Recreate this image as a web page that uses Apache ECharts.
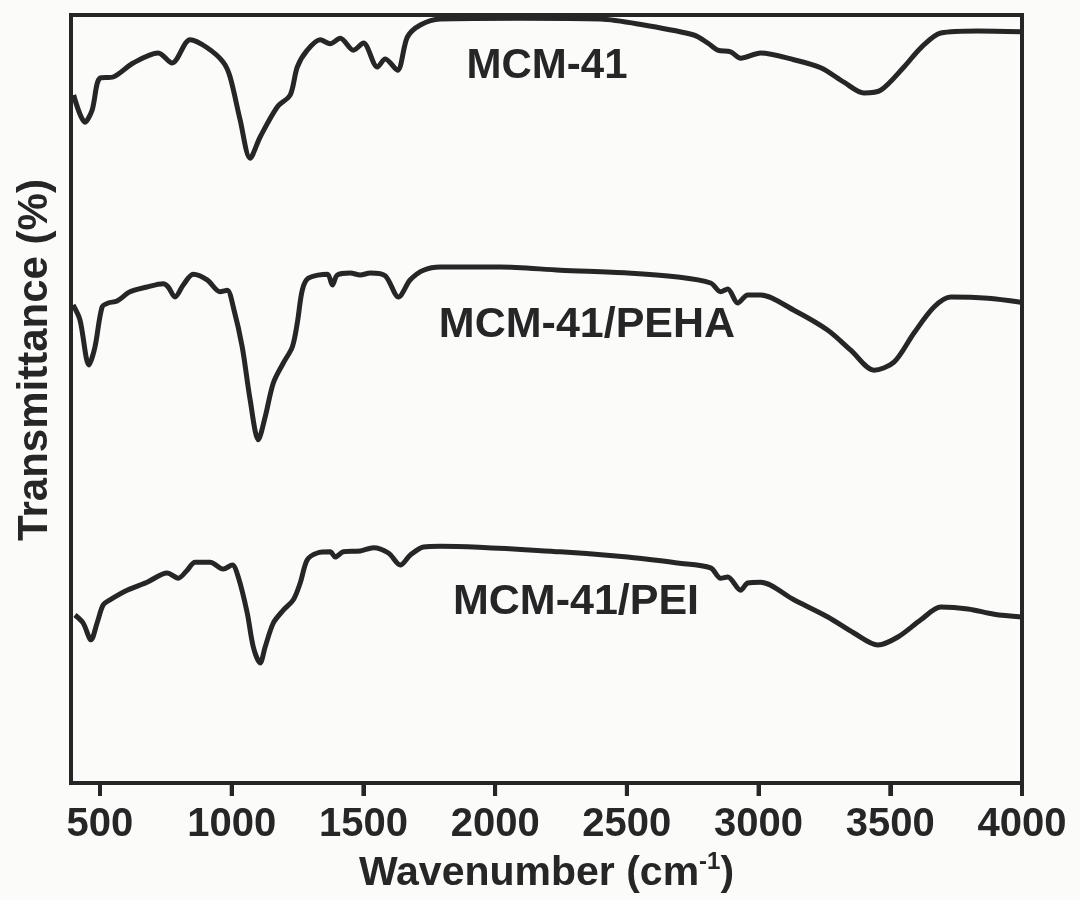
<!DOCTYPE html>
<html>
<head>
<meta charset="utf-8">
<title>FTIR spectra</title>
<script src="https://cdn.jsdelivr.net/npm/echarts@6/dist/echarts.min.js"></script>
<style>
  html, body { margin: 0; padding: 0; background: #fbfbfa; }
  #chart { width: 1080px; height: 900px; }
</style>
</head>
<body>
<div id="chart"></div>
<script>
// wavenumber ticks shown on the bottom axis
const tickValues = [500, 1000, 1500, 2000, 2500, 3000, 3500, 4000];
const waveMin = 390, waveMax = 4000;

// MCM-41 (top trace), transmittance in arbitrary units
const mcmWave = [400,443,470,500,550,626,721,774,842,907,968,994,1032,1070,1108,1173,1222,1249,1287,1336,1374,1412,1462,1500,1553,1583,1629,1667,1716,1792,2096,2400,2564,2754,2807,2845,2894,2932,3008,3134,3236,3324,3400,3464,3552,3616,3692,3833,3996];
const mcmT = [86.0,82.6,84.1,88.1,88.25,90.0,91.25,90.0,92.9,91.9,90.1,88.25,82.9,78.1,80.75,84.5,86.0,89.5,91.6,92.9,92.4,93.1,91.6,92.5,89.5,90.5,89.1,93.25,94.75,95.5,95.6,95.5,94.75,93.5,92.5,91.6,91.4,90.6,91.25,90.4,89.4,87.6,86.25,86.6,89.5,91.9,93.75,94.0,93.9];

// MCM-41/PEHA (middle trace)
const pehaWave = [398,424,458,481,508,531,565,614,679,740,759,785,816,854,907,956,983,1006,1040,1070,1101,1127,1158,1196,1230,1249,1268,1291,1363,1382,1401,1450,1488,1526,1583,1633,1678,1728,1792,2020,2248,2503,2693,2818,2856,2883,2921,2959,3008,3134,3263,3350,3438,3514,3590,3666,3730,3871,3996];
const pehaT = [59.75,57.9,52.25,54.5,59.5,60.0,60.25,61.4,62.0,62.4,62.0,60.75,62.25,63.6,62.9,61.4,61.6,59.5,54.5,47.9,42.9,45.75,50.0,52.5,54.5,57.5,61.6,63.1,63.6,62.25,63.5,63.75,63.5,63.75,63.4,60.75,62.9,64.1,64.5,64.5,64.1,63.75,63.25,62.5,61.4,61.75,60.0,61.0,61.0,59.1,56.6,54.1,51.6,52.6,56.25,59.5,60.75,60.6,60.1];

// MCM-41/PEI (bottom trace)
const peiWave = [405,436,466,489,512,538,603,679,755,797,831,861,918,968,1002,1025,1059,1082,1108,1127,1158,1196,1234,1260,1287,1325,1374,1393,1424,1488,1538,1595,1640,1678,1728,1792,2248,2503,2693,2818,2856,2883,2932,2959,3008,3134,3263,3362,3453,3529,3616,3692,3795,3894,4000];
const peiT = [21.0,20.0,17.9,20.0,22.25,22.9,24.1,25.1,26.25,25.6,26.6,27.6,27.6,26.75,27.25,25.75,21.25,17.0,15.0,17.0,20.0,21.6,22.9,25.0,27.9,28.75,28.9,28.25,28.9,29.0,29.4,28.75,27.25,28.5,29.5,29.6,28.9,28.25,27.5,26.9,25.6,25.75,24.1,25.0,25.1,22.9,20.75,18.75,17.25,18.25,20.4,22.0,21.75,21.1,20.75];

const seriesNames = ['MCM-41', 'MCM-41/PEHA', 'MCM-41/PEI'];

function zip(xs, ys) {
    let out = [];
    for (let i = 0; i < xs.length; i++) out.push([xs[i], ys[i]]);
    return out;
}

const ink = '#262626';
const font = 'Liberation Sans, Arial, sans-serif';

let chart = echarts.init(document.getElementById('chart'));

function traceSeries(name, data) {
    return {
        name: name,
        type: 'line',
        data: data,
        smooth: 0.3,
        showSymbol: false,
        lineStyle: {color: ink, width: 5},
        emphasis: {disabled: true}
    };
}

let labels = [
    {type: 'text', x: 35, y: 360, rotation: Math.PI / 2,
     style: {text: 'Transmittance (%)', font: 'bold 42px ' + font, fill: ink, align: 'center', verticalAlign: 'middle'}},
    {type: 'text', x: 547, y: 66,
     style: {text: seriesNames[0], font: 'bold 42px ' + font, fill: ink, align: 'center', verticalAlign: 'middle'}},
    {type: 'text', x: 587, y: 325,
     style: {text: seriesNames[1], font: 'bold 43px ' + font, fill: ink, align: 'center', verticalAlign: 'middle'}},
    {type: 'text', x: 576, y: 602,
     style: {text: seriesNames[2], font: 'bold 43px ' + font, fill: ink, align: 'center', verticalAlign: 'middle'}}
];

option = {
    animation: false,
    grid: {
        left: 71, right: 58, top: 15, bottom: 117,
        outerBoundsMode: 'none',
        show: true,
        borderColor: ink,
        borderWidth: 4
    },
    xAxis: {
        type: 'value',
        min: waveMin,
        max: waveMax,
        z: 20,
        axisLine: {show: true, lineStyle: {color: ink, width: 4}},
        axisTick: {show: true, customValues: tickValues, length: 13, lineStyle: {color: ink, width: 4}},
        axisLabel: {
            customValues: tickValues,
            formatter: function (v) { return String(v); },
            margin: 22,
            fontSize: 40,
            fontWeight: 'bold',
            fontFamily: font,
            color: ink
        },
        splitLine: {show: false},
        name: '{a|Wavenumber (cm}{s|-1}{a|)}',
        nameLocation: 'middle',
        nameGap: 62,
        nameTextStyle: {
            rich: {
                a: {fontSize: 41, fontWeight: 'bold', fontFamily: font, color: ink},
                s: {fontSize: 24, fontWeight: 'bold', fontFamily: font, color: ink, verticalAlign: 'top', padding: [0, 0, 24, 0]}
            }
        }
    },
    yAxis: {type: 'value', min: 0, max: 96, show: false},
    graphic: labels,
    series: [
        traceSeries(seriesNames[0], zip(mcmWave, mcmT)),
        traceSeries(seriesNames[1], zip(pehaWave, pehaT)),
        traceSeries(seriesNames[2], zip(peiWave, peiT))
    ]
};
chart.setOption(option);

// outward tick marks under the axis, placed through the x scale,
// on their own layer so nothing else can paint over them
let ticks = tickValues.map(function (v) {
    let p = chart.convertToPixel({xAxisIndex: 0, yAxisIndex: 0}, [v, 0]);
    return {
        type: 'line',
        zlevel: 1,
        z: 100,
        silent: true,
        shape: {x1: p[0], y1: p[1] - 2, x2: p[0], y2: p[1] + 13},
        style: {stroke: ink, lineWidth: 4}
    };
});
chart.setOption({graphic: labels.concat(ticks)});
</script>
</body>
</html>
